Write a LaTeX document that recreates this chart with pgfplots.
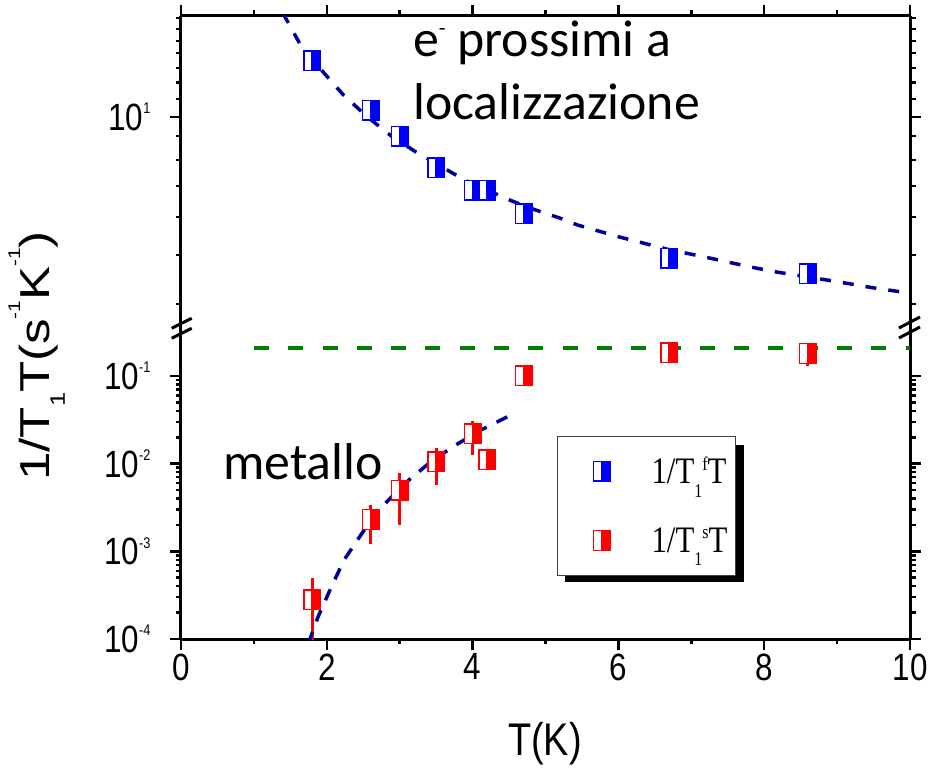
\documentclass[border=0pt]{standalone}
\usepackage{pgfplots}
\pgfplotsset{compat=1.18}
\usepackage{fontspec}
\setmainfont{Liberation Sans}
\newfontfamily\calib{Carlito}
\newfontfamily\timesf{Liberation Serif}

\definecolor{fitblue}{RGB}{0,0,150}
\definecolor{mblue}{RGB}{0,0,255}
\definecolor{mred}{RGB}{255,0,0}
\definecolor{dgreen}{RGB}{0,128,0}

\pgfdeclareplotmark{hsqb}{%
  \pgfsetlinewidth{1.4bp}%
  \pgfsetstrokecolor{mblue}\pgfsetfillcolor{white}%
  \pgfpathrectangle{\pgfqpoint{-8.3bp}{-9.8bp}}{\pgfqpoint{16.6bp}{19.6bp}}%
  \pgfusepathqfillstroke
  \pgfsetfillcolor{mblue}%
  \pgfpathrectangle{\pgfqpoint{-0.3bp}{-9.8bp}}{\pgfqpoint{8.6bp}{19.6bp}}%
  \pgfusepathqfillstroke
}
\pgfdeclareplotmark{hsqr}{%
  \pgfsetlinewidth{1.4bp}%
  \pgfsetstrokecolor{mred}\pgfsetfillcolor{white}%
  \pgfpathrectangle{\pgfqpoint{-8.3bp}{-9.8bp}}{\pgfqpoint{16.6bp}{19.6bp}}%
  \pgfusepathqfillstroke
  \pgfsetfillcolor{mred}%
  \pgfpathrectangle{\pgfqpoint{-0.3bp}{-9.8bp}}{\pgfqpoint{8.6bp}{19.6bp}}%
  \pgfusepathqfillstroke
}

\newcommand\tl[1]{\scalebox{1}[1.21]{#1}}
\newcommand\tfont{\fontsize{31.5}{34}\selectfont}
\newcommand\tp[1]{\tl{10\raisebox{13.5pt}{\fontsize{12.8}{12.8}\selectfont #1}}}
\newcommand\legfont{\timesf\fontsize{31}{33}\selectfont}
\newcommand\lsub[1]{\raisebox{-11.3pt}{\fontsize{16}{16}\selectfont #1}}
\newcommand\lsup[1]{\raisebox{11.3pt}{\fontsize{16}{16}\selectfont #1}}

\pgfplotstableread{
T v
1.8 13.32
2.6 10.35
3.0 9.07
3.5 7.72
4.0 6.88
4.2 6.88
4.7 6.10
6.7 4.86
8.6 4.48
}\fast

\pgfplotstableread{
T v ep em
1.8 2.79e-4 2.18e-4 2.4e-4
2.6 2.31e-3 1.06e-3 1.09e-3
3.0 4.99e-3 2.91e-3 3.0e-3
3.5 1.055e-2 4.67e-3 4.79e-3
4.0 2.2e-2 8.9e-3 9.3e-3
4.2 1.11e-2 0 0
4.7 0.1 0 0
6.7 0.183 0 0
8.6 0.181 0 0.05
}\slow

\pgfplotstableread{
T v
1.40 17.0
1.632 14.53
1.907 12.82
2.229 11.19
2.558 10.0
2.894 9.05
3.224 8.36
3.868 7.28
4.211 6.87
4.527 6.52
4.870 6.21
5.199 5.96
5.446 5.75
6.0 5.42
6.7 5.07
7.174 4.89
7.503 4.76
7.819 4.64
8.148 4.53
8.793 4.36
9.136 4.27
9.465 4.18
9.863 4.09
10.0 4.06
}\fitfast

\pgfplotstableread{
T v
1.75 9.0e-5
1.879 1.78e-4
2.058 3.86e-4
2.236 7.96e-4
2.490 1.64e-3
2.778 3.37e-3
3.118 6.42e-3
3.447 1.087e-2
3.772 1.64e-2
4.111 2.41e-2
4.499 3.50e-2
}\fitslow

\pgfplotsset{brk/.style={
  scale only axis, width=729bp,
  xmin=0, xmax=10, xtick={0,2,...,10}, minor x tick num=1,
  enlargelimits=false,
  tick align=outside, major tick length=11bp, minor tick length=5.5bp,
  every tick/.style={black, line width=2.5bp},
  axis line style={line width=3bp},
  ticklabel style={font=\tfont},
  yticklabel style={xshift=-16bp},
}}

\begin{document}
\begin{tikzpicture}
\path[use as bounding box] (-181bp,-133bp) rectangle (752bp,639bp);
% legend shadow
\fill[black] (384bp,57bp) rectangle (563bp,194bp);

% bottom panel
\begin{axis}[brk, ymode=log, name=bot, at={(0,0)}, anchor=south west, height=310bp,
  axis x line*=bottom,
  ymin=1e-4, ymax=0.3436,
  ytick={1e-4,1e-3,1e-2,1e-1},
  yticklabels={\tp{-4},\tp{-3},\tp{-2},\tp{-1}},
  xticklabels={\tl{0},\tl{2},\tl{4},\tl{6},\tl{8},\tl{10}},
  legend style={at={(rel axis cs:0.5158,0.6548)}, anchor=north west,
    draw=black!75, line width=1bp, fill=white,
    font=\legfont, inner xsep=0bp, inner ysep=0bp, row sep=0bp,
    nodes={inner sep=0bp}},
  legend cell align=left,
  legend image code/.code={\path (-44bp,-34.5bp) (49bp,34bp);
    \draw[only marks,#1] plot coordinates {(0bp,0bp)};},
]
\addlegendimage{mark=hsqb}
\addlegendentry{\tl{1/T\lsub{1}\lsup{f}T}\hspace*{8bp}}
\addplot[only marks, mark=hsqr,
  error bars/.cd, y dir=both, y explicit, error mark=none,
  error bar style={mred, line width=3bp}]
  table[x=T, y=v, y error plus=ep, y error minus=em] {\slow};
\addlegendentry{\tl{1/T\lsub{1}\lsup{s}T}\hspace*{8bp}}
\addplot[forget plot, no marks, dgreen, line width=4bp, dash pattern=on 15bp off 19.3bp]
  coordinates {(1.0,0.207) (10.0,0.207)};
\addplot[forget plot, no marks, fitblue, line width=3.5bp, dash pattern=on 12bp off 11bp]
  table[x=T, y=v] {\fitslow};
\end{axis}

% top panel
\begin{axis}[brk, ymode=log, at={(0,310bp)}, anchor=south west, height=313bp,
  axis x line*=top,
  ymin=3.38, ymax=16.77,
  ytick={10}, yticklabels={\tp{1}},
  minor ytick={3.84,4.94,6.00,7.03,8.03,9.07,10.96,11.94,12.86,13.87,14.74,15.67,16.58},
  xticklabels={},
]
\addplot[only marks, mark=hsqb] table[x=T, y=v] {\fast};
\addplot[no marks, fitblue, line width=3.5bp, dash pattern=on 11bp off 12bp]
  table[x=T, y=v] {\fitfast};
\end{axis}

% axis break marks
\draw[line width=3bp] (-9.3bp,310.7bp) -- (10.7bp,320.7bp);
\draw[line width=3bp] (-9.3bp,300.7bp) -- (10.7bp,310.7bp);
\draw[line width=3bp] (718bp,311bp) -- (739bp,322bp);
\draw[line width=3bp] (718bp,301bp) -- (739bp,312bp);

% labels
\node[anchor=base] at (364bp,-116bp) {\tl{\fontsize{38}{40}\selectfont T(K)}};
\node[rotate=90, anchor=base] at (-131bp,283bp) {\scalebox{1.22}[1]{\fontsize{42}{44}\selectfont
  1/T\raisebox{-15pt}{\fontsize{21}{21}\selectfont 1}T(s\raisebox{30pt}{\fontsize{17}{17}\selectfont -1}K\raisebox{30pt}{\fontsize{17}{17}\selectfont -1})}};

\node[anchor=base west, inner sep=0] at (232bp,582.3bp) {\calib\fontsize{52}{52}\selectfont e\raisebox{21pt}{\fontsize{22}{22}\selectfont -} prossimi a};
\node[anchor=base west, inner sep=0] at (232bp,519bp) {\calib\fontsize{52}{52}\selectfont localizzazione};
\node[anchor=base west, inner sep=0] at (42bp,159bp) {\calib\fontsize{52}{52}\selectfont metallo};
\end{tikzpicture}
\end{document}
